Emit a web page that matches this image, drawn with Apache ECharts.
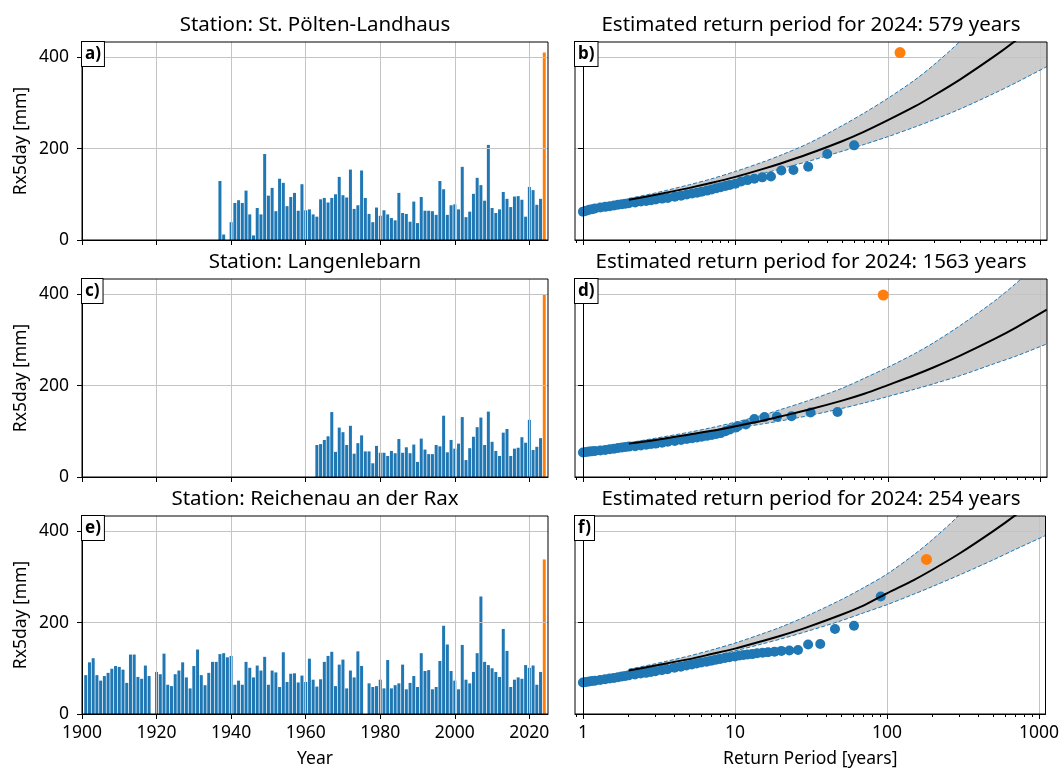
<!DOCTYPE html>
<html>
<head>
<meta charset="utf-8">
<script src="https://cdn.jsdelivr.net/npm/echarts@6/dist/echarts.min.js"></script>
<style>
html, body { margin: 0; padding: 0; background: #fff; }
#chart { width: 1062px; height: 770px; }
</style>
</head>
<body>
<div id="chart"></div>
<script>
// station names and 2024 numbers
const stations  = ['St. Pölten-Landhaus', 'Langenlebarn', 'Reichenau an der Rax'];
const estReturn = [579, 1563, 254];
const rx2024    = [410, 398, 338];
const rp2024    = [120, 93.2, 182];

// Rx5day per year (mm), first year given separately, null = missing
const startA = 1937;
const rxA = [129, 12, null,
    39, 81, 87, 81, 108, 56, 10, 70, 56, 188,
    97, 114, 63, 134, 125, 74, 94, 103, 64, 122,
    65, 67, 56, 51, 89, 92, 82, 92, 100, 138,
    98, 93, 154, 68, 76, 152, 92, 57, 39, 71,
    53, 65, 56, 48, 43, 103, 59, 57, 40, 84,
    37, 94, 64, 64, 63, 55, 129, 111, 55, 76,
    78, 67, 160, 50, 62, 101, 136, 120, 86, 208,
    70, 59, 67, 105, 90, 72, 95, 96, 88, 51,
    116, 109, 77, 90];

const startC = 1963;
const rxC = [70, 72, 81, 89, 142, 55, 108,
    98, 70, 112, 51, 74, 91, 56, 56, 30, 68,
    53, 53, 46, 57, 52, 83, 53, 65, 52, 71,
    33, 84, 60, 50, 50, 70, 67, 134, 54, 81,
    62, 73, 131, 37, 63, 88, 109, 130, 70, 143,
    77, 57, 46, 97, 105, 46, 62, 64, 87, 75,
    125, 59, 66, 85];

const startE = 1901;
const rxE = [85, 113, 122, 85, 73, 83, 90, 99, 105,
    103, 97, 68, 130, 130, 81, 77, 106, 83, null,
    92, 87, 132, 64, 61, 87, 95, 113, 80, 56,
    105, 141, 85, 63, 90, 114, 114, 131, 133, 124,
    127, 64, 73, 64, 114, 101, 80, 106, 95, 125,
    64, 95, 91, 59, 135, 70, 88, 89, 69, 84,
    70, 121, 75, 60, 76, 114, 127, 136, 61, 108,
    119, 56, 95, 80, 137, 105, null, 67, 59, 61,
    75, 56, 118, 56, 63, 67, 108, 54, 68, 83,
    59, 133, 94, 96, 54, 59, 116, 193, 152, 94,
    73, 54, 151, 75, 67, 92, 133, 257, 114, 107,
    100, 92, 81, 186, 138, 59, 75, 80, 77, 107,
    101, 106, 64, 92];

// empirical return periods (years) - dense lower part, shared periods
const bandRp = [1.0, 1.05, 1.1, 1.15, 1.2, 1.3, 1.4, 1.5, 1.6, 1.7, 1.8, 1.9, 2.0, 2.2, 2.4, 2.6, 2.8,
    3.0, 3.3, 3.6, 4.0, 4.4, 4.8, 5.2, 5.6, 6.0, 6.5, 7.0, 7.5, 8.0, 8.6, 9.2, 10.0];
const bandB = [62, 64, 66, 67.5, 69, 71, 72.5, 74, 75.5, 77, 78, 79.5, 80.5, 82, 84, 85.5, 87,
    88.5, 90.5, 92, 94.5, 97, 99.5, 101.5, 103.5, 105.5, 108, 110.5, 113, 115.5, 118, 120.5, 123];
const bandD = [53.5, 54.5, 55.5, 56.3, 57, 58, 59, 60.5, 62, 63.5, 64.5, 65.5, 66.5, 67.5, 69, 70.5, 72,
    73, 75, 77, 79, 81, 83, 85, 86.5, 88, 90, 92, 94, 96, 100, 104, 108];
const bandF = [69, 70, 71, 72, 72.8, 74.5, 76, 77.5, 79, 80.5, 82, 83.3, 84.5, 86.5, 88.5, 90, 92,
    93.5, 96, 98, 101, 103.5, 106, 108.5, 110.5, 112.5, 114.5, 116.5, 118.5, 120.5, 122.5, 124, 126];

// empirical return periods - sparse upper points
const topRpB = [60, 40, 30, 24, 20, 17.1, 15, 13.3, 12, 10.9];
const topB   = [207, 188, 160, 153, 152, 139, 137, 134, 131, 128];
const topRpD = [46.7, 31.1, 23.3, 18.7, 15.5, 13.3, 11.7, 10.4];
const topD   = [142, 141, 133, 132, 131, 127, 115, 111];
const topRpF = [91, 60.7, 45.5, 36.4, 30.3, 26, 22.8, 20.2, 18.2, 16.5, 15.2, 14, 13, 12.1, 11.4, 10.7];
const topF   = [257, 193, 186, 153, 152, 140, 139, 138, 136, 135, 134, 133, 131, 130, 129, 128];

// GEV fit + confidence interval, read at these return periods
const fitRp = [2, 3, 5, 7, 10, 15, 20, 30, 50, 70, 100, 150, 200, 300, 500, 700, 1100];
const fitB = [88, 99, 114, 125, 138, 155, 168, 188, 216, 237, 262, 292, 316, 352, 402, 438, 490];
const hiB  = [91, 103, 121, 134, 150, 170, 186, 211, 250, 278, 310, 350, 383, 436, 515, 572, 665];
const loB  = [85, 95, 108, 119, 130, 145, 156, 172, 194, 209, 226, 247, 263, 287, 321, 345, 379];
const fitD = [73, 81, 93, 101, 111, 123, 133, 147, 167, 182, 201, 223, 240, 266, 302, 328, 366];
const hiD  = [75, 85, 98, 108, 120, 135, 148, 167, 194, 216, 240, 270, 294, 332, 385, 425, 485];
const loD  = [71, 79, 90, 98, 107, 116, 123, 134, 150, 162, 176, 192, 204, 222, 248, 265, 291];
const fitF = [95, 106, 120, 131, 143, 159, 171, 190, 217, 237, 264, 293, 316, 351, 400, 435, 487];
const hiF  = [98, 110, 127, 140, 155, 175, 190, 215, 250, 276, 306, 348, 382, 436, 520, 580, 680];
const loF  = [92, 102, 116, 126, 138, 153, 164, 181, 204, 221, 239, 262, 279, 304, 337, 360, 390];

// tick labels
const yearTicks = [1900, 1920, 1940, 1960, 1980, 2000, 2020];
const rpTicks   = [1, 10, 100, 1000];
const rpMinor   = [0.9, 2, 3, 4, 5, 6, 7, 8, 9, 20, 30, 40, 50, 60, 70, 80, 90,
    200, 300, 400, 500, 600, 700, 800, 900];
const rxTicks   = [0, 200, 400];

const FONT   = '"Noto Sans", "DejaVu Sans", sans-serif';
const BLUE   = '#1f77b4';
const ORANGE = '#ff7f0e';
const GRIDC  = '#c4c4c4';

const tops  = [42, 279, 516];
const gridH = 198;
const leftX = [82, 575];
const gridW = [466, 472];

const bars = [[startA, rxA], [startC, rxC], [startE, rxE]];
const empirical = [[topRpB, topB, bandB], [topRpD, topD, bandD], [topRpF, topF, bandF]];
const fits = [[fitB, hiB, loB], [fitD, hiD, loD], [fitF, hiF, loF]];

const lg = t => Math.log10(t);

function barData(start, vals, v24){
    let out = [];
    for(let i = 0; i < vals.length; i++){
        if(vals[i] !== null) out.push([start + i, vals[i]]);
    }
    out.push({ value: [2024, v24], itemStyle: { color: ORANGE } });
    return out;
}

function pairs(rp, vals){
    return rp.map((t, i) => [lg(t), vals[i]]);
}

// value first, so the stack runs on the y value
function valueFirst(rp, vals){
    return rp.map((t, i) => [vals[i], lg(t)]);
}

// grid lines as markLines so they sit above bars / band but below lines and points
function gridLines(xs){
    return {
        silent: true,
        symbol: 'none',
        label: { show: false },
        lineStyle: { color: GRIDC, width: 1, type: 'solid' },
        data: xs.map(x => ({ xAxis: x })).concat([{ yAxis: 200 }, { yAxis: 400 }])
    };
}

let grids = [], xAxes = [], yAxes = [], series = [], graphics = [];
let minorAxes = [];
const labelStyle = { color: '#000', fontSize: 17.5, fontFamily: FONT };
const nameStyle  = { color: '#000', fontSize: 17.5, fontFamily: FONT };

for(let r = 0; r < 3; r++){
    for(let c = 0; c < 2; c++){
        let gi = r * 2 + c;
        grids.push({ left: leftX[c], top: tops[r], width: gridW[c], height: gridH, z: 10,
            show: true, borderColor: '#000', borderWidth: 1, backgroundColor: 'transparent' });

        if(c === 0){
            xAxes.push({
                type: 'value', gridIndex: gi, min: 1900, max: 2025, z: 10,
                axisLine: { show: true, lineStyle: { color: '#000', width: 1 } },
                axisTick: { show: true, length: 5, customValues: yearTicks, lineStyle: { color: '#000' } },
                axisLabel: Object.assign({ show: r === 2, customValues: yearTicks, margin: 10,
                    formatter: v => String(v) }, labelStyle),
                splitLine: { show: false },
                name: r === 2 ? 'Year' : '', nameLocation: 'middle', nameGap: 36, nameTextStyle: nameStyle
            });
        } else {
            xAxes.push({
                type: 'value', gridIndex: gi, min: lg(0.887), max: lg(1104), z: 10,
                axisLine: { show: true, lineStyle: { color: '#000', width: 1 } },
                axisTick: { show: true, length: 5, customValues: rpTicks.map(lg), lineStyle: { color: '#000' } },
                axisLabel: Object.assign({ show: r === 2, customValues: rpTicks.map(lg), margin: 10,
                    formatter: v => String(Math.round(Math.pow(10, v))) }, labelStyle),
                splitLine: { show: false },
                name: r === 2 ? 'Return Period [years]' : '', nameLocation: 'middle', nameGap: 36,
                nameTextStyle: nameStyle
            });
            minorAxes.push({
                type: 'value', gridIndex: gi, position: 'bottom', min: lg(0.887), max: lg(1104), z: 10,
                axisLine: { show: false },
                axisTick: { show: true, length: 3, customValues: rpMinor.map(lg), lineStyle: { color: '#000' } },
                axisLabel: { show: false },
                splitLine: { show: false }
            });
        }

        yAxes.push({
            type: 'value', gridIndex: gi, min: 0, max: 433, z: 10,
            axisLine: { show: true, lineStyle: { color: '#000', width: 1 } },
            axisTick: { show: true, length: 5, customValues: rxTicks, lineStyle: { color: '#000' } },
            axisLabel: Object.assign({ show: c === 0, customValues: rxTicks, margin: 13 }, labelStyle),
            splitLine: { show: false },
            name: c === 0 ? 'Rx5day [mm]' : '', nameLocation: 'middle', nameGap: 52, nameRotate: 90,
            nameTextStyle: nameStyle
        });

        if(c === 0){
            series.push({
                type: 'bar', xAxisIndex: gi, yAxisIndex: gi,
                data: barData(bars[r][0], bars[r][1], rx2024[r]),
                barWidth: 3, itemStyle: { color: BLUE }, z: 2,
                markLine: gridLines(yearTicks.slice(1))
            });
        } else {
            let f = fits[r];
            let e = empirical[r];
            // grey band between the bounds: lower bound + stacked width
            let width = f[1].map((v, i) => v - f[2][i]);
            series.push({
                type: 'line', xAxisIndex: gi, yAxisIndex: gi, data: valueFirst(fitRp, f[2]),
                encode: { x: 1, y: 0 },
                stack: 'ci' + r, smooth: 0.3, symbol: 'none',
                lineStyle: { color: BLUE, width: 1, type: [4, 2] }, z: 6
            });
            series.push({
                type: 'line', xAxisIndex: gi, yAxisIndex: gi, data: valueFirst(fitRp, width),
                encode: { x: 1, y: 0 },
                stack: 'ci' + r, smooth: 0.3, symbol: 'none', lineStyle: { width: 0 },
                areaStyle: { color: '#cccccc', opacity: 1 }, z: 2,
                markLine: gridLines(rpTicks.map(lg))
            });
            // upper dashed bound
            series.push({
                type: 'line', xAxisIndex: gi, yAxisIndex: gi, data: pairs(fitRp, f[1]),
                smooth: 0.3, symbol: 'none',
                lineStyle: { color: BLUE, width: 1, type: [4, 2] }, z: 6
            });
            // observations
            series.push({
                type: 'scatter', xAxisIndex: gi, yAxisIndex: gi,
                data: pairs(bandRp, e[2]).concat(pairs(e[0], e[1])),
                symbolSize: 10, itemStyle: { color: BLUE, opacity: 1 }, z: 6
            });
            // GEV fit
            series.push({
                type: 'line', xAxisIndex: gi, yAxisIndex: gi, data: pairs(fitRp, f[0]),
                smooth: 0.3, symbol: 'none',
                lineStyle: { color: '#000', width: 2 }, z: 7
            });
            series.push({
                type: 'scatter', xAxisIndex: gi, yAxisIndex: gi,
                data: [[lg(rp2024[r]), rx2024[r]]],
                symbolSize: 11, itemStyle: { color: ORANGE, opacity: 1 }, z: 8
            });
        }

        // panel letter box
        graphics.push({
            type: 'text', x: leftX[c], y: tops[r], z: 100,
            style: {
                text: 'abcdef'[gi] + ')', font: 'bold 17px ' + FONT, fill: '#000',
                backgroundColor: '#fff', borderColor: '#000', borderWidth: 1,
                padding: [2, 3, 1, 3], lineHeight: 21,
                textAlign: 'left', textVerticalAlign: 'top', align: 'left', verticalAlign: 'top'
            }
        });
    }

    // titles
    let titles = ['Station: ' + stations[r], 'Estimated return period for 2024: ' + estReturn[r] + ' years'];
    for(let c = 0; c < 2; c++){
        graphics.push({
            type: 'text', x: leftX[c] + gridW[c] / 2, y: tops[r] - 17, z: 100,
            style: {
                text: titles[c], font: '20.5px ' + FONT, fill: '#000',
                textAlign: 'center', textVerticalAlign: 'middle', align: 'center', verticalAlign: 'middle'
            }
        });
    }
}

let chart = echarts.init(document.getElementById('chart'));
chart.setOption({
    animation: false,
    backgroundColor: '#fff',
    grid: grids,
    xAxis: xAxes.concat(minorAxes),
    yAxis: yAxes,
    series: series,
    graphic: graphics
});
</script>
</body>
</html>
